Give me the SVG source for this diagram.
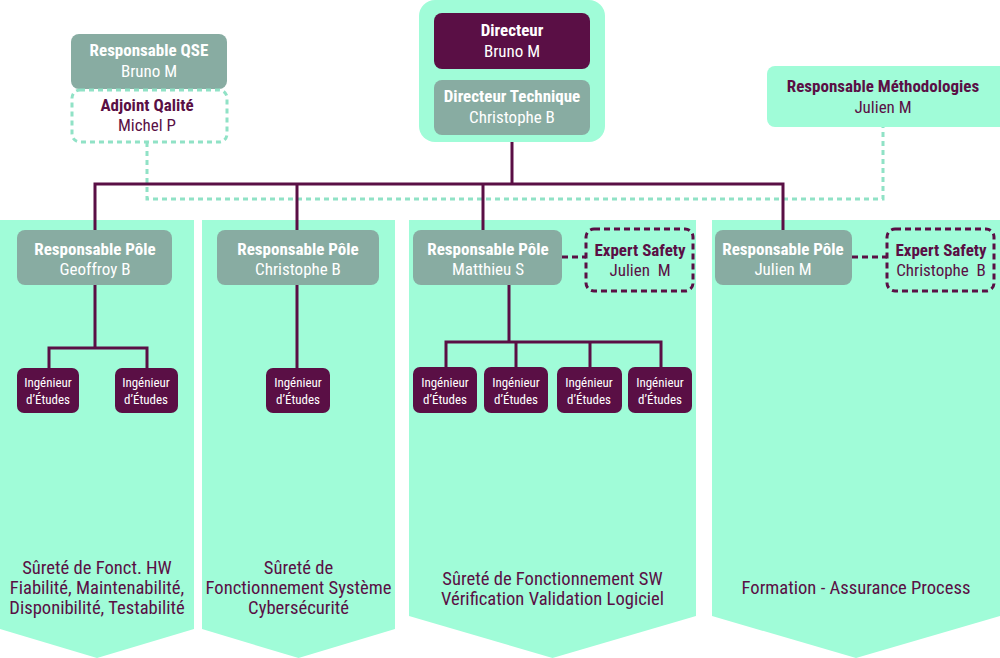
<svg xmlns="http://www.w3.org/2000/svg" width="1000" height="658" viewBox="0 0 1000 658">
<style>
text{font-family:"Roboto Condensed","Liberation Sans Narrow","DejaVu Sans Condensed",Roboto,sans-serif;text-anchor:middle}
.b{font-weight:bold}
.w{fill:#ffffff}
.p{fill:#5a0f45}
.f16{font-size:17px}
.f13{font-size:13px}
.f18{font-size:18.6px}
.col{fill:#a0fcd8}
.grey{fill:#88aca2}
.dark{fill:#5a0f45}
.light{fill:#a0fcd8}
.conn{fill:none;stroke:#5a0f45;stroke-width:3}
.dashp{fill:none;stroke:#5a0f45;stroke-width:3;stroke-dasharray:6 4}
.dashg{fill:none;stroke:#90e2c6;stroke-width:3;stroke-dasharray:5 4}
</style>

<g id="columns">
  <polygon class="col" points="0,220 194,220 194,629 97,658 0,629"/>
  <polygon class="col" points="202,220 395,220 395,629 298.5,658 202,629"/>
  <polygon class="col" points="409,220 696,220 696,616 552.5,658 409,616"/>
  <polygon class="col" points="712,220 1000,220 1000,616 856,658 712,616"/>
</g>

<g id="connectors">
  <polyline class="dashg" points="147,142 147,199 883,199 883,127"/>
  <line class="conn" x1="512" y1="134" x2="512" y2="184"/>
  <polyline class="conn" points="95,231 95,184 783,184 783,231"/>
  <line class="conn" x1="297" y1="184" x2="297" y2="231"/>
  <line class="conn" x1="483" y1="184" x2="483" y2="231"/>
  <line class="conn" x1="95" y1="285" x2="95" y2="348"/>
  <polyline class="conn" points="49,369 49,348 147,348 147,369"/>
  <line class="conn" x1="297" y1="285" x2="297" y2="369"/>
  <line class="conn" x1="509" y1="285" x2="509" y2="342"/>
  <polyline class="conn" points="446,369 446,342 661,342 661,369"/>
  <line class="conn" x1="516" y1="342" x2="516" y2="369"/>
  <line class="conn" x1="590" y1="342" x2="590" y2="369"/>
  <line class="dashp" x1="562" y1="257" x2="586" y2="257"/>
  <line class="dashp" x1="852" y1="257" x2="887" y2="257"/>
</g>

<g id="direction">
  <rect class="light" x="419" y="0" width="186" height="142" rx="16"/>
  <g id="directeur">
    <rect class="dark" x="434" y="13" width="156" height="56" rx="8"/>
    <text class="b w f16" x="512" y="36">Directeur</text>
    <text class="w f16" x="512" y="57">Bruno M</text>
  </g>
  <g id="directeur-technique">
    <rect class="grey" x="434" y="80" width="156" height="55" rx="8"/>
    <text class="b w f16" x="512" y="102">Directeur Technique</text>
    <text class="w f16" x="512" y="123">Christophe B</text>
  </g>
</g>

<g id="responsable-qse">
  <rect class="grey" x="71" y="34" width="156" height="55" rx="8"/>
  <text class="b w f16" x="149" y="56">Responsable QSE</text>
  <text class="w f16" x="149" y="77">Bruno M</text>
</g>

<g id="adjoint-qualite">
  <rect class="dashg" x="72" y="90" width="155" height="52" rx="8"/>
  <text class="b p f16" x="147" y="111">Adjoint Qalité</text>
  <text class="p f16" x="147" y="131">Michel P</text>
</g>

<g id="responsable-methodologies">
  <rect class="light" x="767" y="66" width="240" height="61" rx="8"/>
  <text class="b p f16" x="883" y="92">Responsable Méthodologies</text>
  <text class="p f16" x="883" y="113">Julien M</text>
</g>

<g id="pole-1">
  <rect class="grey" x="17" y="230" width="155" height="55" rx="8"/>
  <text class="b w f16" x="95" y="255">Responsable Pôle</text>
  <text class="w f16" x="95" y="275">Geoffroy B</text>
</g>
<g id="pole-2">
  <rect class="grey" x="217" y="230" width="162" height="55" rx="8"/>
  <text class="b w f16" x="298" y="255">Responsable Pôle</text>
  <text class="w f16" x="298" y="275">Christophe B</text>
</g>
<g id="pole-3">
  <rect class="grey" x="413" y="230" width="149" height="55" rx="8"/>
  <text class="b w f16" x="488" y="255">Responsable Pôle</text>
  <text class="w f16" x="488" y="275">Matthieu S</text>
</g>
<g id="expert-3">
  <rect class="dashp" x="586" y="229" width="107" height="62" rx="8"/>
  <text class="b p f16" x="640" y="256">Expert Safety</text>
  <text class="p f16" x="640" y="276" xml:space="preserve">Julien  M</text>
</g>
<g id="pole-4">
  <rect class="grey" x="715" y="230" width="137" height="55" rx="8"/>
  <text class="b w f16" x="783" y="255">Responsable Pôle</text>
  <text class="w f16" x="783" y="275">Julien M</text>
</g>
<g id="expert-4">
  <rect class="dashp" x="887" y="229" width="107" height="62" rx="8"/>
  <text class="b p f16" x="941" y="256">Expert Safety</text>
  <text class="p f16" x="941" y="276" xml:space="preserve">Christophe  B</text>
</g>

<g id="ing-1a"><rect class="dark" x="17" y="368" width="62" height="45" rx="7"/><text class="w f13" x="48" y="387">Ingénieur</text><text class="w f13" x="48" y="404">d’Études</text></g>
<g id="ing-1b"><rect class="dark" x="115" y="368" width="63" height="45" rx="7"/><text class="w f13" x="146" y="387">Ingénieur</text><text class="w f13" x="146" y="404">d’Études</text></g>
<g id="ing-2"><rect class="dark" x="266" y="368" width="64" height="45" rx="7"/><text class="w f13" x="298" y="387">Ingénieur</text><text class="w f13" x="298" y="404">d’Études</text></g>
<g id="ing-3a"><rect class="dark" x="413" y="367" width="64" height="46" rx="7"/><text class="w f13" x="445" y="387">Ingénieur</text><text class="w f13" x="445" y="404">d’Études</text></g>
<g id="ing-3b"><rect class="dark" x="484" y="367" width="64" height="46" rx="7"/><text class="w f13" x="516" y="387">Ingénieur</text><text class="w f13" x="516" y="404">d’Études</text></g>
<g id="ing-3c"><rect class="dark" x="557" y="367" width="65" height="46" rx="7"/><text class="w f13" x="589" y="387">Ingénieur</text><text class="w f13" x="589" y="404">d’Études</text></g>
<g id="ing-3d"><rect class="dark" x="628" y="367" width="64" height="46" rx="7"/><text class="w f13" x="660" y="387">Ingénieur</text><text class="w f13" x="660" y="404">d’Études</text></g>

<g id="labels">
  <text class="p f18" x="97" y="574">Sûreté de Fonct. HW</text>
  <text class="p f18" x="97" y="594">Fiabilité, Maintenabilité,</text>
  <text class="p f18" x="97" y="614">Disponibilité, Testabilité</text>
  <text class="p f18" x="298.5" y="574">Sûreté de</text>
  <text class="p f18" x="298.5" y="594">Fonctionnement Système</text>
  <text class="p f18" x="298.5" y="614">Cybersécurité</text>
  <text class="p f18" x="552.5" y="585">Sûreté de Fonctionnement SW</text>
  <text class="p f18" x="552.5" y="605">Vérification Validation Logiciel</text>
  <text class="p f18" x="856" y="594">Formation - Assurance Process</text>
</g>
</svg>
